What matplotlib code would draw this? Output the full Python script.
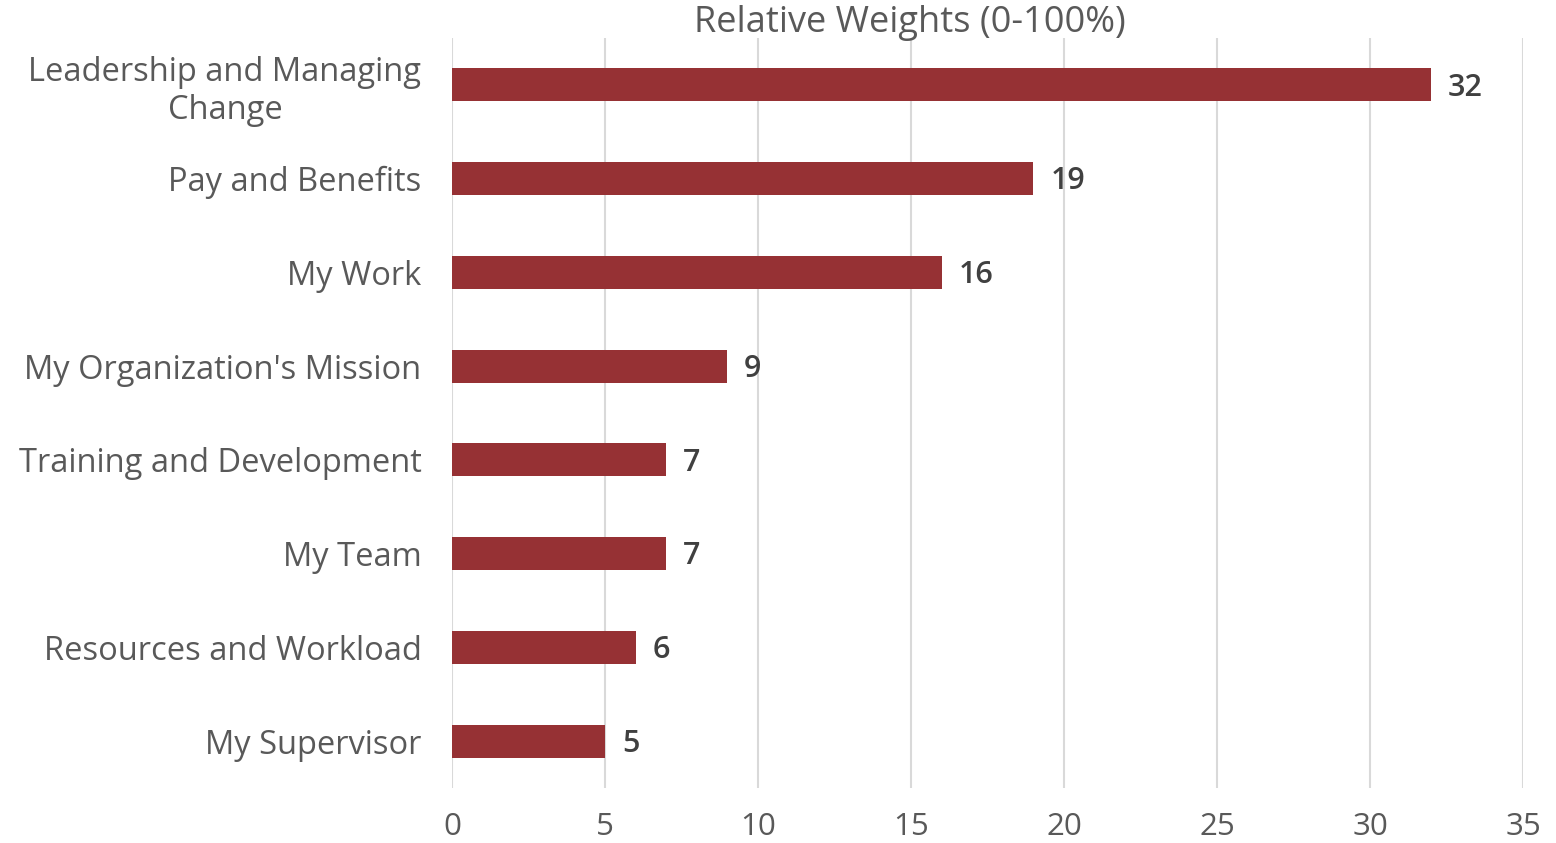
import matplotlib
matplotlib.use("Agg")
import matplotlib.pyplot as plt

categories = ["Leadership and Managing\nChange", "Pay and Benefits", "My Work",
              "My Organization's Mission", "Training and Development", "My Team",
              "Resources and Workload", "My Supervisor"]
values = [32, 19, 16, 9, 7, 7, 6, 5]
xticks = [0, 5, 10, 15, 20, 25, 30, 35]
title = "Relative Weights (0-100%)"

plt.rcParams['font.family'] = ['Open Sans', 'DejaVu Sans']

fig = plt.figure(figsize=(15.56, 8.43), dpi=100)
ax = fig.add_axes([452/1556, 1-788/843, (1523-452)/1556, (788-38)/843])

bar_color = "#963134"
ypos = list(range(len(categories)))
ax.barh(ypos, values, height=0.35, color=bar_color, zorder=3)
for y, v in zip(ypos, values):
    ax.text(v + 0.55, y + 0.03, f"{v}", va="center", ha="left", fontsize=22,
            color="#404040", fontweight="semibold")

ax.set_ylim(len(categories) - 0.5, -0.5)
ax.set_xlim(0, 35)
ax.set_xticks(xticks)
ax.set_xticklabels([str(t) for t in xticks], fontsize=22.5, color="#595959")
ax.set_yticks(ypos)
ax.set_yticklabels(categories, fontsize=23.5, color="#595959", linespacing=1.2)
for lab in ax.get_yticklabels():
    lab.set_multialignment("center")
ax.tick_params(axis="y", length=0, pad=22)
ax.tick_params(axis="x", length=0, pad=17)
ax.grid(axis="x", color="#d9d9d9", linewidth=1.5, zorder=0)
for s in ax.spines.values():
    s.set_visible(False)
fig.text(910/1556, 1-23/843, title, ha="center", va="center", fontsize=26, color="#595959")

fig.savefig("out.png", dpi=100)
